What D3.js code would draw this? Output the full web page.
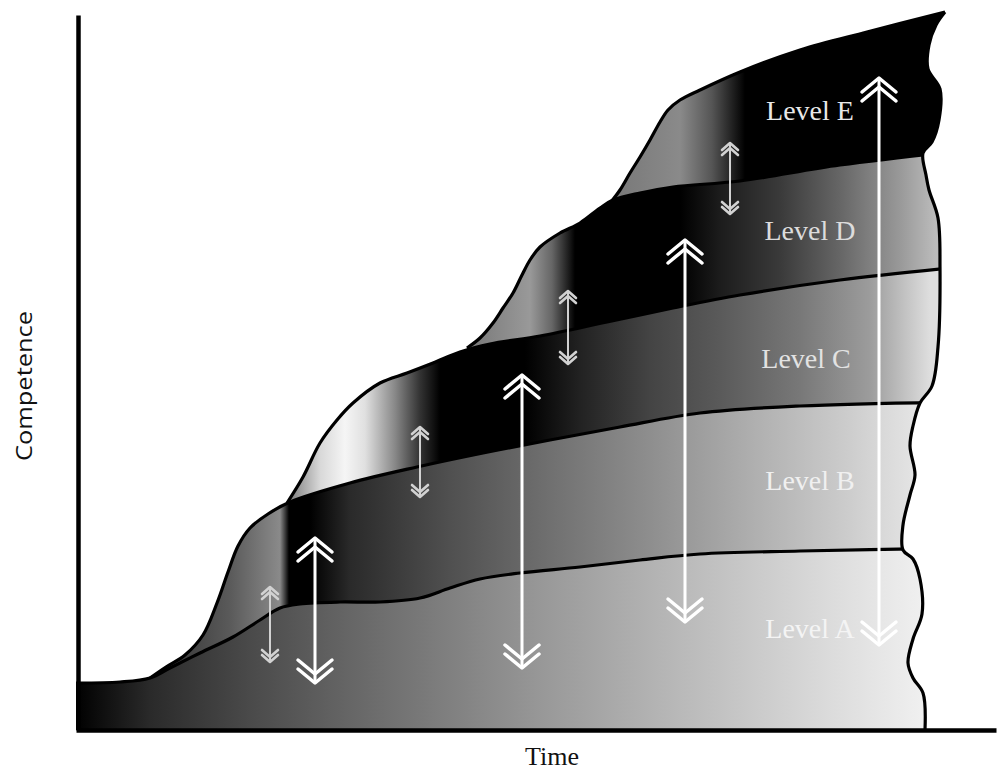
<!DOCTYPE html>
<html><head><meta charset="utf-8">
<script src="https://cdn.jsdelivr.net/npm/d3@7"></script>
<style>html,body{margin:0;padding:0;background:#fff;} svg{display:block;}</style>
</head><body>
<svg id="chart" width="1001" height="774"></svg>
<script>
// ---------- data (time, competence) ----------
const levelNames = ["Level A","Level B","Level C","Level D","Level E"];
const topA = [[0,4.7],[4.4,4.8],[7.4,5.2],[9.4,6.2],[12.4,7.7],[15.7,9.3],[18.4,11.0],[20.4,12.2],[22.4,12.6],[26.4,12.8],[30.4,12.8],[34.4,13.2],[37.4,14.2],[40.4,15.1],[44.4,15.7],[50.4,16.3],[56.4,17.0],[62.4,17.6],[72.4,17.9],[88.4,18.2]];
const topB = [[7.4,5.2],[9.0,6.3],[10.9,7.5],[12.7,9.5],[14.1,12.7],[15.2,15.8],[16.2,18.4],[17.4,20.2],[19.2,21.6],[21.4,22.8],[27.4,24.7],[34.1,26.3],[40.7,27.7],[47.4,29.0],[54.4,30.3],[62.4,31.7],[72.4,32.4],[88.4,32.8]];
const topC = [[21.1,22.7],[22.7,25.3],[24.4,28.7],[26.1,31.0],[27.7,32.7],[30.4,34.7],[33.1,35.7],[35.7,36.7],[38.4,37.8],[41.4,38.6],[46.4,39.4],[53.1,40.8],[59.7,42.2],[66.4,43.5],[76.4,45.0],[88.4,46.3]];
const topD = [[39.1,38.2],[40.4,39.2],[41.7,40.7],[42.7,42.2],[43.7,43.7],[44.6,45.5],[45.4,47.0],[46.4,48.3],[48.4,49.7],[50.4,50.7],[52.4,52.2],[53.7,53.0],[56.4,53.7],[59.7,54.3],[66.4,54.9],[76.4,56.5],[88.4,57.9]];
const topE = [[53.5,52.8],[54.4,54.0],[55.4,55.7],[56.4,57.3],[57.4,59.0],[58.4,60.8],[59.2,62.0],[60.4,63.0],[62.4,64.0],[66.4,65.8],[72.4,68.0],[79.1,69.8],[86.9,71.8]];
const rightEdge = [[86.9,71.8],[86.0,70.5],[85.3,68.5],[85.2,66.1],[86.4,64.1],[86.3,61.0],[85.6,58.8],[84.7,57.7],[85.0,55.5],[85.3,54.0],[86.2,51.2],[86.4,46.3],[86.2,38.3],[85.6,34.4],[84.4,32.7],[83.7,30.4],[83.4,28.4],[83.9,25.5],[83.4,23.5],[82.7,20.5],[82.7,18.0],[83.7,17.1],[84.4,15.1],[84.6,11.6],[83.7,9.1],[83.2,6.7],[83.7,5.2],[84.7,3.7],[84.9,0]];
const labelTime = [73.4,73.4,73.0,73.4,73.4];
const labelCompetence = [9.2,24.0,36.2,49.0,61.0];
const arrowTime = [19.4,23.9,34.4,44.6,49.2,60.9,65.4,80.3];
const arrowTop = [14.3,19.2,30.3,35.5,43.9,49.0,58.7,65.2];
const arrowBottom = [6.8,4.7,23.3,6.2,36.6,10.8,51.6,8.5];
const arrowKind = ["small","large","small","large","small","large","small","large"];
const xTitle = "Time", yTitle = "Competence";
const tops = [topA, topB, topC, topD, topE];

// ---------- styles ----------
const gradStops = [
  [[0,"#000"],[1.4,"#080808"],[7.4,"#2a2a2a"],[17.4,"#4a4a4a"],[27.4,"#666"],[37.4,"#808080"],[47.4,"#9a9a9a"],[57.4,"#b2b2b2"],[67.4,"#c9c9c9"],[77.4,"#e0e0e0"],[84.4,"#efefef"],[92,"#f2f2f2"]],
  [[8.7,"#333"],[15.4,"#5a5a5a"],[20.4,"#8a8a8a"],[21.3,"#000"],[23.4,"#000"],[27.4,"#2a2a2a"],[37.4,"#505050"],[47.4,"#707070"],[57.4,"#8e8e8e"],[67.4,"#aeaeae"],[77.4,"#cdcdcd"],[84.4,"#e6e6e6"]],
  [[21.1,"#777"],[24.4,"#d8d8d8"],[26.9,"#f5f5f5"],[28.9,"#e0e0e0"],[31.9,"#888"],[34.4,"#333"],[36.4,"#000"],[44.9,"#000"],[50.4,"#222"],[57.4,"#444"],[64.4,"#5a5a5a"],[72.4,"#787878"],[79.4,"#9c9c9c"],[85.4,"#dedede"]],
  [[39.1,"#777"],[45.4,"#999"],[47.6,"#666"],[49.9,"#000"],[60.4,"#000"],[64.4,"#1c1c1c"],[70.4,"#3a3a3a"],[76.4,"#666"],[82.4,"#999"],[85.9,"#bbb"]],
  [[53.4,"#777"],[60.4,"#8a8a8a"],[63.6,"#555"],[66.9,"#000"],[92,"#000"]]
];
const labelColors = ["#f4f4f4","#f0f0f0","#e2e2e2","#dcdcdc","#e8e8e8"];

const W = 1001, H = 774;
const x = d3.scaleLinear().domain([0,92]).range([76,996]);
const y = d3.scaleLinear().domain([0,71.5]).range([730,15]);
const svg = d3.select("#chart");
const defs = svg.append("defs");

gradStops.forEach((stops,i)=>{
  const g = defs.append("linearGradient").attr("id","grad"+i)
    .attr("gradientUnits","userSpaceOnUse")
    .attr("x1",x(0)).attr("x2",x(92)).attr("y1",0).attr("y2",0);
  g.selectAll("stop").data(stops).join("stop")
    .attr("offset",d=>d[0]/92).attr("stop-color",d=>d[1]);
});

const curve = d3.curveCatmullRom.alpha(0.5);
const line = d3.line().x(d=>x(d[0])).y(d=>y(d[1])).curve(curve);
const edgePath = line(rightEdge);
const first = rightEdge[0], last = rightEdge[rightEdge.length-1];
defs.append("clipPath").attr("id","edgeClip").append("path")
  .attr("d", `M0,0L${x(first[0])},0` + edgePath.replace(/^M/,"L") + `L${x(last[0])},${H}L0,${H}Z`);

const area = d3.area().x(d=>x(d[0])).y0(y(0)).y1(d=>y(d[1])).curve(curve);
const gLevels = svg.append("g").attr("clip-path","url(#edgeClip)");
for (let i = tops.length-1; i>=0; i--) {
  gLevels.append("path").attr("d", area(tops[i])).attr("fill", `url(#grad${i})`);
}
tops.forEach(t=>{
  gLevels.append("path").attr("d", line(t)).attr("fill","none")
    .attr("stroke","#000").attr("stroke-width",3.2).attr("stroke-linejoin","round");
});
svg.append("path").attr("d", edgePath).attr("fill","none")
  .attr("stroke","#000").attr("stroke-width",3.2);

// axes
const xAxis = svg.append("g").attr("transform",`translate(0,${y(0)})`)
  .call(d3.axisBottom(x).ticks(0).tickSizeOuter(0));
const yAxis = svg.append("g").attr("transform",`translate(${x(0)+2},0)`)
  .call(d3.axisLeft(y).ticks(0).tickSizeOuter(0));
[xAxis,yAxis].forEach(a=>a.select(".domain").attr("stroke","#000").attr("stroke-width",4.5));

// arrows
const arrowStyle = {
  large:{color:"#fff", shaft:3, w:17, h:14, gap:9, sw:3.5},
  small:{color:"#d2d2d2", shaft:2, w:8, h:7, gap:5, sw:2.6}
};
const gA = svg.append("g");
arrowTime.forEach((t,i)=>{
  const s = arrowStyle[arrowKind[i]];
  const ax = x(t), yt = y(arrowTop[i]), yb = y(arrowBottom[i]);
  const g = gA.append("g").attr("stroke",s.color).attr("fill","none")
    .attr("stroke-linecap","round").attr("stroke-linejoin","round");
  g.append("line").attr("x1",ax).attr("x2",ax).attr("y1",yt+2).attr("y2",yb-2).attr("stroke-width",s.shaft);
  for (let k=0;k<2;k++){
    const ty = yt + k*s.gap, by = yb - k*s.gap;
    g.append("path").attr("stroke-width",s.sw)
      .attr("d",`M${ax-s.w},${ty+s.h}L${ax},${ty}L${ax+s.w},${ty+s.h}`);
    g.append("path").attr("stroke-width",s.sw)
      .attr("d",`M${ax-s.w},${by-s.h}L${ax},${by}L${ax+s.w},${by-s.h}`);
  }
});

// level labels
svg.append("g").selectAll("text").data(levelNames).join("text")
  .attr("x",(d,i)=>x(labelTime[i])).attr("y",(d,i)=>y(labelCompetence[i]))
  .attr("text-anchor","middle")
  .attr("font-family","'Liberation Serif','Times New Roman',serif")
  .attr("font-size",28).attr("fill",(d,i)=>labelColors[i])
  .text(d=>d);

// axis titles
svg.append("text").attr("x",552).attr("y",765).attr("text-anchor","middle")
  .attr("font-family","'Liberation Serif','Times New Roman',serif").attr("font-size",26)
  .attr("fill","#111").text(xTitle);
svg.append("text").attr("transform","translate(32,386) rotate(-90)").attr("text-anchor","middle")
  .attr("font-family","'Open Sans','DejaVu Sans',sans-serif").attr("font-size",22)
  .attr("textLength",150).attr("lengthAdjust","spacingAndGlyphs")
  .attr("fill","#111").text(yTitle);
</script>
</body></html>
